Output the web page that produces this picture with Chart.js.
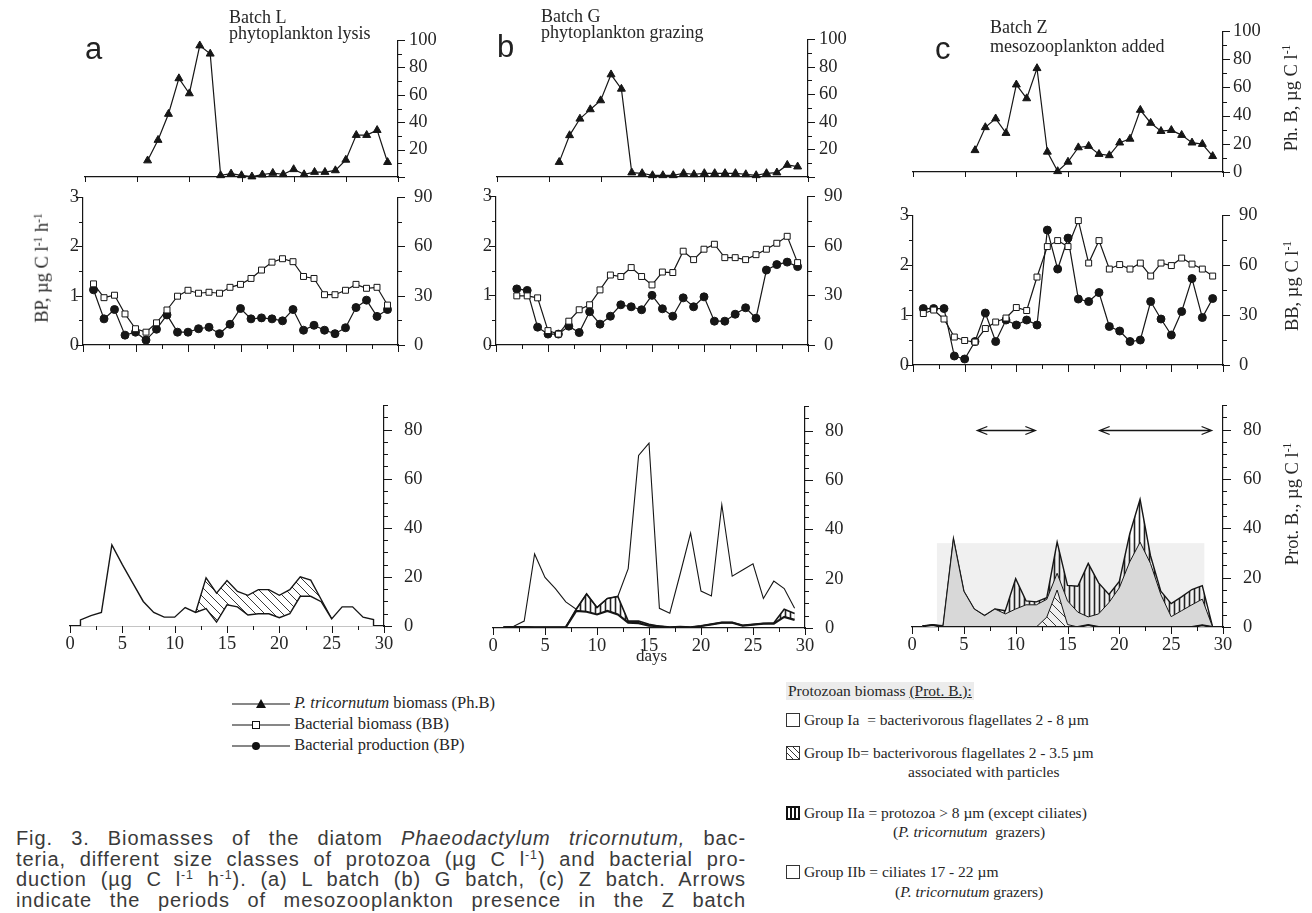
<!DOCTYPE html>
<html>
<head>
<meta charset="utf-8">
<script src="https://cdn.jsdelivr.net/npm/chart.js@4.4.0/dist/chart.umd.min.js"></script>
<style>
  body { margin: 0; width: 1312px; height: 913px; position: relative; overflow: hidden; background: #fff;
         font-family: "Liberation Serif", "DejaVu Serif", serif; color: #262626; }
  canvas { position: absolute; }
  .t { position: absolute; white-space: nowrap; line-height: 1; }
  .rot { transform: translate(-50%, -50%) rotate(-90deg); font-size: 18.5px; }
  .letter { font-size: 31px; font-family: "Liberation Sans", Arial, sans-serif; color: #222; }
  .batch { font-size: 18px; line-height: 16px; }
  .leg { font-size: 16.5px; }
  .leg2 { font-size: 15.5px; }
  .cap { position: absolute; left: 16px; width: 730px; font-family: "Liberation Sans", Arial, sans-serif;
         font-size: 20px; letter-spacing: 0.9px; color: #3a3a3a; text-align: justify; text-align-last: justify;
         white-space: nowrap; line-height: 1; }
  sup { font-size: 0.62em; vertical-align: 0.55em; line-height: 0; }
</style>
</head>
<body>

<canvas id="topA"></canvas><canvas id="topB"></canvas><canvas id="topC"></canvas>
<canvas id="midA"></canvas><canvas id="midB"></canvas><canvas id="midC"></canvas>
<canvas id="botA"></canvas><canvas id="botB"></canvas><canvas id="botC"></canvas>

<!-- panel letters and batch titles -->
<div class="t letter" style="left:85px;top:33px">a</div>
<div class="t letter" style="left:497px;top:31px">b</div>
<div class="t letter" style="left:935px;top:33px">c</div>
<div class="t batch" style="left:229px;top:9px">Batch L<br>phytoplankton lysis</div>
<div class="t batch" style="left:541px;top:8px">Batch G<br>phytoplankton grazing</div>
<div class="t batch" style="left:990px;top:18px;line-height:19px">Batch Z<br>mesozooplankton added</div>

<!-- axis titles -->
<div class="t rot" style="left:1291px;top:98px">Ph. B, µg C l<sup>-1</sup></div>
<div class="t rot" style="left:1292px;top:286px">BB, µg C l<sup>-1</sup></div>
<div class="t rot" style="left:1292px;top:504px">Prot. B., µg C l<sup>-1</sup></div>
<div class="t rot" style="left:42px;top:268px">BP, µg C l<sup>-1</sup> h<sup>-1</sup></div>
<div class="t" style="left:636px;top:647px;font-size:17px">days</div>

<!-- left legend -->
<div class="t leg" style="left:232px;top:695px">
  <svg width="60" height="18" style="vertical-align:middle"><line x1="0" y1="9" x2="58" y2="9" stroke="#111" stroke-width="1.2"/><polygon points="29,4 34,13 24,13" fill="#111"/></svg>
  <span style="margin-left:-2px"><i>P. tricornutum</i> biomass (Ph.B)</span>
</div>
<div class="t leg" style="left:232px;top:716px">
  <svg width="60" height="18" style="vertical-align:middle"><line x1="0" y1="9" x2="58" y2="9" stroke="#111" stroke-width="1.2"/><rect x="20.5" y="5.5" width="7" height="7" fill="#fff" stroke="#111"/></svg>
  <span style="margin-left:-2px">Bacterial biomass (BB)</span>
</div>
<div class="t leg" style="left:232px;top:737px">
  <svg width="60" height="18" style="vertical-align:middle"><line x1="0" y1="9" x2="58" y2="9" stroke="#111" stroke-width="1.2"/><circle cx="24" cy="9" r="4" fill="#111"/></svg>
  <span style="margin-left:-2px">Bacterial production (BP)</span>
</div>

<!-- right legend -->
<div class="t leg2" style="left:786px;top:682px;background:#ececec;padding:1px 2px">Protozoan biomass <u>(Prot. B.):</u></div>
<div class="t leg2" style="left:786px;top:712px">
  <svg width="14" height="14" style="vertical-align:-2px"><rect x="0.5" y="0.5" width="13" height="13" fill="#fff" stroke="#333"/></svg>
  Group Ia&nbsp; = bacterivorous flagellates 2 - 8 µm</div>
<div class="t leg2" style="left:786px;top:745px">
  <svg width="14" height="14" style="vertical-align:-2px"><rect x="0.5" y="0.5" width="13" height="13" fill="#fff" stroke="#333"/><line x1="1" y1="1" x2="13" y2="13" stroke="#333"/><line x1="1" y1="7" x2="7" y2="13" stroke="#333"/><line x1="7" y1="1" x2="13" y2="7" stroke="#333"/></svg>
  Group Ib= bacterivorous flagellates 2 - 3.5 µm</div>
<div class="t leg2" style="left:908px;top:764px">associated with particles</div>
<div class="t leg2" style="left:786px;top:805px">
  <svg width="14" height="14" style="vertical-align:-2px"><rect x="1" y="1" width="12" height="12" fill="#fff" stroke="#111" stroke-width="2"/><line x1="5" y1="1" x2="5" y2="13" stroke="#111" stroke-width="2"/><line x1="9" y1="1" x2="9" y2="13" stroke="#111" stroke-width="2"/></svg>
  Group IIa = protozoa &gt; 8 µm (except ciliates)</div>
<div class="t leg2" style="left:893px;top:824px">(<i>P. tricornutum</i>&nbsp; grazers)</div>
<div class="t leg2" style="left:786px;top:864px">
  <svg width="14" height="14" style="vertical-align:-2px"><rect x="0.5" y="0.5" width="13" height="13" fill="#fff" stroke="#333"/></svg>
  Group IIb = ciliates 17 - 22 µm</div>
<div class="t leg2" style="left:895px;top:884px">(<i>P. tricornutum</i> grazers)</div>

<!-- caption -->
<div class="cap" style="top:828px">Fig. 3. Biomasses of the diatom <i>Phaeodactylum tricornutum,</i> bac-</div>
<div class="cap" style="top:848.7px">teria, different size classes of protozoa (µg C l<sup>-1</sup>) and bacterial pro-</div>
<div class="cap" style="top:869.4px">duction (µg C l<sup>-1</sup> h<sup>-1</sup>). (a) L batch (b) G batch, (c) Z batch. Arrows</div>
<div class="cap" style="top:890px">indicate the periods of mesozooplankton presence in the Z batch</div>

<script>
// ---- data (days of incubation) ----
const days = [1,2,3,4,5,6,7,8,9,10,11,12,13,14,15,16,17,18,19,20,21,22,23,24,25,26,27,28,29];
const phDays = [6,7,8,9,10,11,12,13,14,15,16,17,18,19,20,21,22,23,24,25,26,27,28,29];

// P. tricornutum biomass (Ph.B, µg C/l)
const phA = [12, 27, 46, 72, 61, 96, 90, 1.2, 2.4, 1.2, 0.3, 1.7, 2.9, 1.9, 5.6, 1.9, 3.6, 3.6, 4.8, 12.5, 30.6, 30.6, 34.2, 10.8];
const phB = [10.8, 30.2, 42.2, 49, 55.5, 74.3, 63.9, 3.2, 2.7, 1.2, 1.2, 1.2, 2.7, 1.9, 2.7, 2.7, 2.7, 2.7, 1.9, 1.2, 2.7, 3.2, 8.7, 7.5];
const phC = [15.4, 31.7, 37.9, 27.6, 62, 52.2, 73.6, 14.3, 0.5, 7.2, 17.4, 18.4, 12.7, 11.8, 20.8, 23.5, 44, 34.8, 29, 29.7, 26.2, 20.8, 19.8, 11.2];

// bacterial biomass (BB, µg C/l) and bacterial production (BP, µg C/l/h)
const bbA = [37.2, 28.8, 30.3, 18.9, 9.9, 7.8, 13.5, 21.3, 29.7, 33.3, 31.5, 32.1, 31.5, 35.1, 36.9, 40.5, 45.6, 50.4, 52.5, 50.7, 41.7, 40.5, 30.6, 30.6, 33.3, 36.9, 34.5, 35.1, 24.3];
const bpA = [1.12, 0.53, 0.72, 0.2, 0.26, 0.1, 0.32, 0.61, 0.26, 0.26, 0.33, 0.36, 0.23, 0.42, 0.74, 0.53, 0.55, 0.53, 0.49, 0.72, 0.3, 0.4, 0.3, 0.23, 0.35, 0.76, 0.91, 0.58, 0.72];
const daysB = [2,3,4,5,6,7,8,9,10,11,12,13,14,15,16,17,18,19,20,21,22,23,24,25,26,27,28,29];
const bbB = [29.7, 29.7, 28.5, 8.7, 6.6, 14.4, 21.3, 24.3, 33.3, 42.3, 41.4, 46.8, 41.4, 36.3, 44.1, 43.8, 56.7, 51.6, 57.9, 60.9, 52.8, 52.8, 51.6, 54.6, 57.9, 61.5, 65.7, 49.8];
const bpB = [1.13, 1.10, 0.36, 0.22, 0.22, 0.38, 0.25, 0.67, 0.42, 0.58, 0.81, 0.77, 0.71, 1.0, 0.73, 0.58, 0.95, 0.77, 0.97, 0.48, 0.48, 0.62, 0.75, 0.54, 1.51, 1.62, 1.67, 1.58];
const bbC = [30.9, 33, 27.6, 16.8, 14.7, 13.8, 21.9, 25.8, 28.2, 34.5, 32.7, 52.8, 71.1, 74.7, 71.1, 86.7, 61.2, 74.7, 57.6, 60.3, 57.6, 61.2, 53.4, 61.2, 59.7, 64.2, 60.6, 57.6, 53.4];
const bpC = [1.13, 1.13, 1.13, 0.18, 0.12, 0.47, 1.04, 0.47, 0.9, 0.8, 0.9, 0.8, 2.7, 1.92, 2.54, 1.32, 1.27, 1.45, 0.77, 0.68, 0.47, 0.5, 1.27, 0.92, 0.6, 1.07, 1.73, 0.95, 1.33];

// protozoan biomass (Prot. B., µg C/l), stacked groups
const iaA = [2.5, 4.2, 5.5, 33, 25, 17.5, 10, 5.5, 3.6, 3.6, 7.5, 5.5, 7.1, 1.6, 8.6, 7.8, 4.5, 5, 5, 3.4, 5, 12.1, 12.1, 9.9, 2.9, 7.8, 7.8, 3.6, 2.6];
const ibDaysA = [12,13,14,15,16,17,18,19,20,21,22,23,24,25];
const ibA = [0, 12.5, 11.8, 9.9, 6.3, 8, 9.8, 9.8, 9.1, 9.8, 7.9, 6.6, 0.9, 0];

const lowB = [0.3, 0.4, 0.4, 0.3, 0.3, 0.3, 0.3, 6.9, 6.6, 5.5, 6.9, 5.5, 2.2, 2, 1, 0.7, 0.3, 0.5, 0.3, 0.8, 1.5, 2.2, 2.2, 1, 1.4, 1.8, 1.8, 4.5, 3.3];
const iiaB = [0, 0, 0, 0, 0, 0, 0, 0.7, 7.2, 2.8, 5.1, 7.3, 0.6, 0.8, 0.5, 0, 0, 0, 0, 0, 0, 0, 0, 0, 0, 0, 0.2, 3.1, 2.6];
const iaB = [0.4, 0.7, 2.8, 30, 20.5, 16, 10.6, 7.6, 13.8, 8.3, 12, 12.8, 24.1, 70, 75, 8, 6, 22, 38.5, 15, 13, 50, 21, 23.5, 26, 12, 19, 16, 8];

const iibC = [0.3, 0.8, 0, 0, 0, 0, 0, 0, 0, 0, 0, 0, 0, 0, 0, 0, 0.8, 0, 0, 0, 0, 0, 0, 0, 0, 0, 0, 0.7, 0];
const ibC = [0, 0, 0, 0, 0, 0, 0, 0, 0, 0, 0, 0, 4, 15, 1, 0, 0, 0, 0, 0, 0, 0, 0, 0, 0, 0, 0, 0, 0];
const iaC = [0, 0, 0.5, 35.7, 14.5, 7.3, 4.6, 7.3, 5.3, 7.3, 9, 9, 7.2, 6.8, 9.6, 6, 3.3, 5.3, 9.9, 15.9, 26.4, 34.4, 25.8, 13.2, 4.2, 6.6, 9, 10.6, 0];
const iiaC = [0, 0, 0, 0, 0, 0, 0, 0, 1.3, 12.3, 1.6, 1.2, 0.7, 12.6, 6.3, 10.5, 21.7, 12.6, 3.3, 2.6, 11.3, 17.4, 3.2, 1.3, 5.3, 5.6, 6.2, 5.5, 0];

// periods with mesozooplankton in batch Z (days) and where the arrows sit
const mesoPeriods = [[6.3, 11.9], [18.1, 28.9]];
const arrowLevel = 80;

// ---- drawing ----
const INK = '#161616';
Chart.defaults.font.family = '"Liberation Serif", "DejaVu Serif", serif';
Chart.defaults.font.size = 18.5;
Chart.defaults.color = '#262626';

const xy = (xs, ys) => xs.map((x, i) => ({ x: x, y: ys[i] }));

function hatch(kind) {
  const c = document.createElement('canvas');
  const g = c.getContext('2d');
  if (kind === 'diag') {
    c.width = c.height = 9;
    g.strokeStyle = '#222';
    g.lineWidth = 0.9;
    g.beginPath();
    g.moveTo(-1, -1); g.lineTo(10, 10);
    g.moveTo(-1, 8); g.lineTo(1, 10);
    g.moveTo(8, -1); g.lineTo(10, 1);
    g.stroke();
  } else {
    c.width = 5; c.height = 5;
    g.strokeStyle = '#222';
    g.lineWidth = 1.6;
    g.beginPath(); g.moveTo(2.5, 0); g.lineTo(2.5, 5); g.stroke();
  }
  return g.createPattern(c, 'repeat');
}
const diagFill = hatch('diag');
const vertFill = hatch('vert');

// ticks drawn by hand so that minor ticks can be shorter than major ones
const tickPlugin = {
  id: 'handTicks',
  afterDraw(chart) {
    const ctx = chart.ctx;
    const ca = chart.chartArea;
    ctx.save();
    ctx.strokeStyle = INK;
    ctx.lineWidth = 1;
    for (const t of chart.canvas.tickSpec) {
      const s = chart.scales[t.axis];
      for (let v = s.min; v <= s.max + 1e-9; v += t.step) {
        const isMajor = Math.abs(v / t.major - Math.round(v / t.major)) < 1e-6;
        const len = isMajor ? t.len[1] : t.len[0];
        const p = Math.round(s.getPixelForValue(v)) + 0.5;
        ctx.beginPath();
        if (s.position === 'bottom') { ctx.moveTo(p, ca.bottom); ctx.lineTo(p, ca.bottom + len); }
        else if (s.position === 'right') { ctx.moveTo(ca.right, p); ctx.lineTo(ca.right + len, p); }
        else { ctx.moveTo(ca.left, p); ctx.lineTo(ca.left - len, p); }
        ctx.stroke();
      }
    }
    ctx.restore();
  }
};

const arrowPlugin = {
  id: 'mesoArrows',
  afterDatasetsDraw(chart) {
    const { x, y } = chart.scales;
    const ctx = chart.ctx;
    const yy = Math.round(y.getPixelForValue(arrowLevel)) + 0.5;
    ctx.save();
    ctx.strokeStyle = INK;
    ctx.lineWidth = 1.3;
    for (const [a, b] of mesoPeriods) {
      const x0 = x.getPixelForValue(a), x1 = x.getPixelForValue(b);
      ctx.beginPath();
      ctx.moveTo(x0, yy); ctx.lineTo(x1, yy);
      ctx.moveTo(x0 + 10, yy - 4); ctx.lineTo(x0, yy); ctx.lineTo(x0 + 10, yy + 4);
      ctx.moveTo(x1 - 10, yy - 4); ctx.lineTo(x1, yy); ctx.lineTo(x1 - 10, yy + 4);
      ctx.stroke();
    }
    ctx.restore();
  }
};

// light grey background patch seen behind the Z batch protozoa
const shadeBox = { from: 2.4, to: 28.2, top: 34 };
const shadePlugin = {
  id: 'shade',
  beforeDatasetsDraw(chart) {
    const { x, y } = chart.scales;
    const ctx = chart.ctx;
    ctx.save();
    ctx.fillStyle = '#f0f0f0';
    const x0 = x.getPixelForValue(shadeBox.from), x1 = x.getPixelForValue(shadeBox.to);
    const y0 = y.getPixelForValue(shadeBox.top), y1 = y.getPixelForValue(0);
    ctx.fillRect(x0, y0, x1 - x0, y1 - y0);
    ctx.restore();
  }
};

const M = { l: 45, r: 70, t: 14, b: 32 };

function panel(id, area, scales, datasets, ticks, extra) {
  const cv = document.getElementById(id);
  const hasLeft = Object.values(scales).some(s => s.position === 'left');
  const w = area.x1 - area.x0 + M.l + M.r;
  const h = area.y1 - area.y0 + M.t + M.b;
  cv.width = w; cv.height = h;
  cv.style.left = (area.x0 - M.l) + 'px';
  cv.style.top = (area.y0 - M.t) + 'px';
  cv.tickSpec = ticks;
  return new Chart(cv, {
    type: 'line',
    data: { datasets: datasets },
    options: {
      responsive: false,
      animation: false,
      layout: { padding: { left: hasLeft ? 0 : M.l, right: 0, top: M.t, bottom: 0 } },
      plugins: { legend: { display: false }, tooltip: { enabled: false } },
      scales: scales
    },
    plugins: [tickPlugin].concat(extra || [])
  });
}

function xAxis(labels) {
  return {
    type: 'linear', position: 'bottom', min: 0, max: 30,
    afterFit: s => { s.height = M.b; },
    grid: { display: false, drawTicks: false },
    border: { color: INK, width: 1.2 },
    ticks: { display: labels, stepSize: 5, padding: 7, maxRotation: 0, autoSkip: false }
  };
}
function yAxis(pos, max, step, pad, hideZero, stacked) {
  return {
    type: 'linear', position: pos, min: 0, max: max, stacked: !!stacked,
    afterFit: s => { s.width = pos === 'left' ? M.l : M.r; },
    grid: { display: false, drawTicks: false },
    border: { color: INK, width: 1.2 },
    ticks: {
      stepSize: step, padding: pad, autoSkip: false,
      callback: v => (Math.abs(v / step - Math.round(v / step)) > 1e-6 || (hideZero && v === 0)) ? '' : v
    }
  };
}

function markerLine(xs, ys, style, axis) {
  const ds = {
    data: xy(xs, ys), yAxisID: axis, borderColor: INK, borderWidth: 1.2, tension: 0, clip: false,
    pointStyle: style, pointBorderColor: INK, pointBorderWidth: 1
  };
  if (style === 'triangle') { ds.pointRadius = 4.6; ds.pointBackgroundColor = INK; }
  if (style === 'rect') { ds.pointRadius = 4.2; ds.pointBackgroundColor = '#fff'; }
  if (style === 'circle') { ds.pointRadius = 4; ds.pointBackgroundColor = INK; }
  return ds;
}

function area(points, fillStyle, fillTo, width, stack) {
  return {
    data: points, borderColor: INK, borderWidth: width, backgroundColor: fillStyle,
    fill: fillTo, pointRadius: 0, tension: 0, stack: stack || 'prot'
  };
}

// top row: P. tricornutum biomass
const topTicks = [{ axis: 'x', step: 5, major: 5, len: [5, 5] }, { axis: 'y', step: 10, major: 20, len: [4, 7] }];
panel('topA', { x0: 85, x1: 398, y0: 32, y1: 177 },
  { x: xAxis(false), y: yAxis('right', 100, 20, 11, true) },
  [markerLine(phDays, phA, 'triangle', 'y')], topTicks);
panel('topB', { x0: 497, x1: 808, y0: 31, y1: 177 },
  { x: xAxis(false), y: yAxis('right', 100, 20, 11, true) },
  [markerLine(phDays, phB, 'triangle', 'y')], topTicks);
panel('topC', { x0: 913, x1: 1223, y0: 24, y1: 172 },
  { x: xAxis(false), y: yAxis('right', 100, 20, 10, false) },
  [markerLine(phDays, phC, 'triangle', 'y')], topTicks);

// middle row: bacterial biomass (right axis) and production (left axis)
const midTicks = [
  { axis: 'x', step: 2.5, major: 5, len: [4, 7] },
  { axis: 'y', step: 0.5, major: 1, len: [4, 7] },
  { axis: 'y2', step: 15, major: 30, len: [4, 7] }
];
function midScales() {
  return { x: xAxis(false), y: yAxis('left', 3, 1, 4, false), y2: yAxis('right', 90, 30, 16, false) };
}
panel('midA', { x0: 83, x1: 398, y0: 184, y1: 345 }, midScales(),
  [markerLine(days, bbA, 'rect', 'y2'), markerLine(days, bpA, 'circle', 'y')], midTicks);
panel('midB', { x0: 496, x1: 808, y0: 183, y1: 345 }, midScales(),
  [markerLine(daysB, bbB, 'rect', 'y2'), markerLine(daysB, bpB, 'circle', 'y')], midTicks);
panel('midC', { x0: 913, x1: 1223, y0: 202, y1: 365 }, midScales(),
  [markerLine(days, bbC, 'rect', 'y2'), markerLine(days, bpC, 'circle', 'y')], midTicks);

// bottom row: protozoan biomass
const botTicks = [{ axis: 'x', step: 2.5, major: 5, len: [4, 7] }, { axis: 'y', step: 5, major: 20, len: [4, 8] }];
function botScales() {
  return { x: xAxis(true), y: yAxis('right', 90, 20, 20, false, true) };
}
const iaAPoints = [{ x: 1, y: 0 }].concat(xy(days, iaA), [{ x: 29, y: 0 }]);
panel('botA', { x0: 70, x1: 384, y0: 388, y1: 626 }, botScales(), [
  area(iaAPoints, '#fff', 'origin', 1.4),
  area(xy(ibDaysA, ibA), diagFill, '-1', 1.4)
], botTicks);

panel('botB', { x0: 493, x1: 805, y0: 389, y1: 628 }, botScales(), [
  area(xy(days, lowB), 'rgba(255,255,255,0)', 'origin', 2.2),
  area(xy(days, iiaB), vertFill, '-1', 1.6),
  area(xy(days, iaB), 'rgba(0,0,0,0)', false, 1.1, 'total')
], botTicks);

panel('botC', { x0: 912, x1: 1223, y0: 388, y1: 627 }, botScales(), [
  area(xy(days, iibC), '#fff', 'origin', 2.2),
  area(xy(days, ibC), diagFill, '-1', 1),
  area(xy(days, iaC), '#d8d8d8', '-1', 1),
  area(xy(days, iiaC), vertFill, '-1', 1.4)
], botTicks, [shadePlugin, arrowPlugin]);
</script>
</body>
</html>
